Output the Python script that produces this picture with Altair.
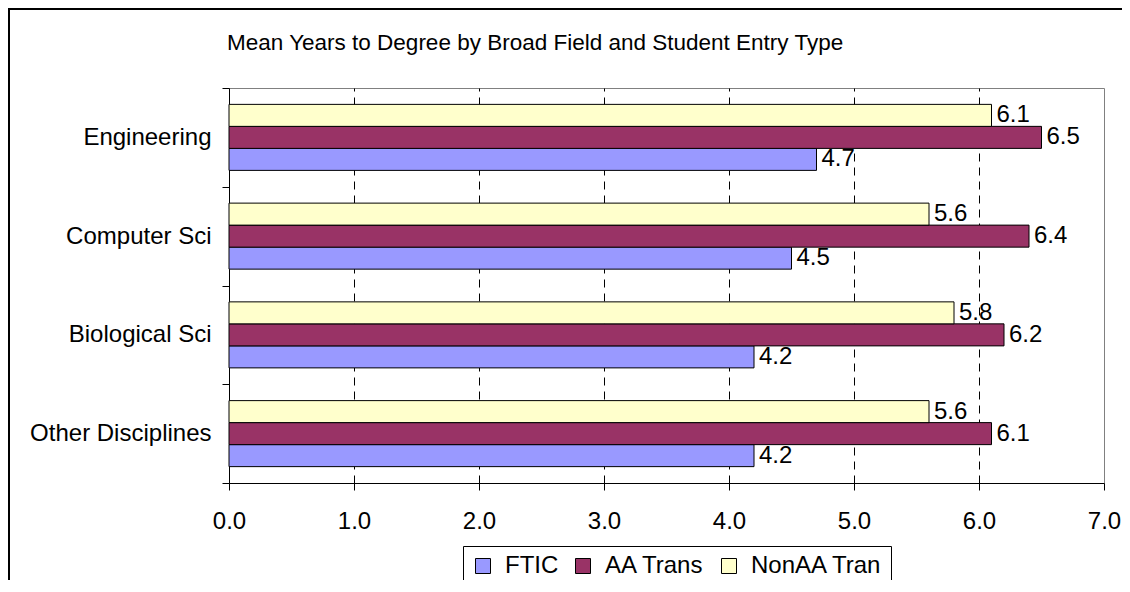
import altair as alt
import pandas as pd

# ---- data ----
fields = ["Engineering", "Computer Sci", "Biological Sci", "Other Disciplines"]
types = ["FTIC", "AA Trans", "NonAA Tran"]
ftic = [4.7, 4.5, 4.2, 4.2]
aa_trans = [6.5, 6.4, 6.2, 6.1]
nonaa_tran = [6.1, 5.6, 5.8, 5.6]
colors = ["#9999FF", "#993366", "#FFFFCC"]
x_ticks = [0, 1, 2, 3, 4, 5, 6, 7]
title_text = ["Mean Years to Degree by Broad Field and Student Entry Type"]

rows = []
for i, f in enumerate(fields):
    for t, vals in zip(types, [ftic, aa_trans, nonaa_tran]):
        rows.append({"field": f, "type": t, "value": vals[i]})
df = pd.DataFrame(rows)

FONT = "Liberation Sans"
offset_order = ["NonAA Tran", "AA Trans", "FTIC"]

y_enc = alt.Y(
    "field:N", sort=fields, title=None,
    scale=alt.Scale(paddingInner=0, paddingOuter=0),
    axis=alt.Axis(tickBand="extent", tickSize=7, tickColor="black", domainColor="black",
                  labelFontSize=24, labelFont=FONT, labelColor="black", labelPadding=11,
                  grid=False, labelLimit=400),
)
y_off = alt.YOffset("type:N", sort=offset_order,
                    scale=alt.Scale(paddingInner=0, paddingOuter=0.7443))
x_enc = alt.X(
    "value:Q", title=None,
    scale=alt.Scale(domain=[0, 7], nice=False, zero=True),
    axis=alt.Axis(values=x_ticks, format=".1f", tickSize=7, tickColor="black", domainColor="black",
                  labelFontSize=24, labelFont=FONT, labelColor="black", labelPadding=19,
                  labelFlush=False, labelOverlap=False,
                  grid=True, gridColor="black", gridDash=[8, 6],
                  gridOpacity={"condition": {"test": "datum.value == 0 || datum.value == 7", "value": 0},
                               "value": 1}),
)

color_enc = alt.Color(
    "type:N",
    scale=alt.Scale(domain=types, range=colors),
    legend=alt.Legend(title=None, orient="none", legendX=234, legendY=458, direction="horizontal",
                      strokeColor="black", fillColor="white", padding=8,
                      symbolType="square", symbolSize=225, symbolStrokeColor="black",
                      symbolStrokeWidth=1, symbolOpacity=1,
                      labelFontSize=24, labelFont=FONT, labelColor="black",
                      labelOffset=10, columnPadding=12),
)

frame = alt.Chart(pd.DataFrame({"a": [0]})).mark_rect(
    fillOpacity=0, stroke="black", strokeWidth=2
).encode(x=alt.value(-220), x2=alt.value(2000), y=alt.value(-79), y2=alt.value(900))

title = alt.Chart(pd.DataFrame({"t": title_text})).mark_text(
    align="left", baseline="alphabetic", fontSize=22.5, font=FONT, color="black"
).encode(text="t:N", x=alt.value(-2), y=alt.value(-38))

bars = alt.Chart(df).mark_bar(stroke="black", strokeWidth=1).encode(
    x=x_enc, y=y_enc, yOffset=y_off, color=color_enc
)

labels = alt.Chart(df).mark_text(
    align="left", baseline="middle", dx=5, fontSize=24, font=FONT, color="black"
).encode(
    x="value:Q", y=alt.Y("field:N", sort=fields), yOffset=alt.YOffset("type:N", sort=offset_order),
    text=alt.Text("value:Q", format=".1f"),
)

chart = alt.layer(frame, title, bars, labels).properties(
    width=875, height=395,
    autosize=alt.AutoSizeParams(type="none"),
    padding={"left": 221, "top": 80, "right": 18, "bottom": 97},
    background="white",
).configure_view(stroke="#808080", strokeWidth=1)

chart.save("out.html", embed_options={"renderer": "svg", "actions": False})
